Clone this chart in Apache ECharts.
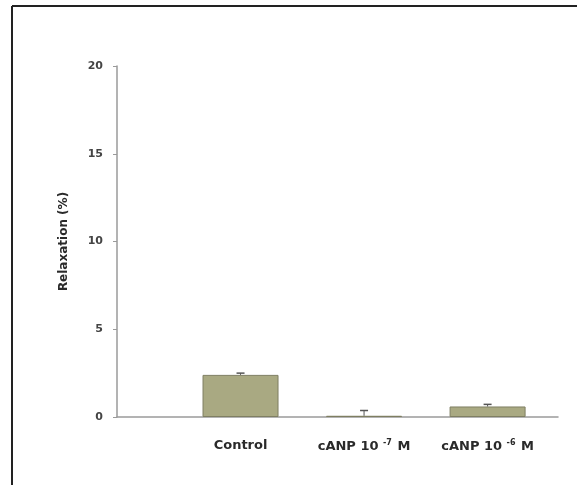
<!DOCTYPE html>
<html>
<head>
<meta charset="utf-8">
<script src="https://cdn.jsdelivr.net/npm/echarts@6/dist/echarts.min.js"></script>
<style>
  html, body { margin: 0; padding: 0; background: #fff; }
  #chart { width: 577px; height: 485px; }
</style>
</head>
<body>
<div id="chart"></div>
<script>
// Group labels (superscript exponent kept separate)
const categories = ['Control', 'cANP 10', 'cANP 10'];
const exponents = ['', '-7', '-6'];
// Mean relaxation (%) per group and its SEM
const means = [2.4, 0.07, 0.6];
const errors = [0.1, 0.3, 0.12];
// Position of each group along the x axis
const positions = [1, 2, 3];
const yTicks = [0, 5, 10, 15, 20];

const FONT = 'DejaVu Sans';
const chart = echarts.init(document.getElementById('chart'));

const barData = positions.map((p, i) => [p, means[i]]);
const errData = positions.map((p, i) => [p, means[i], means[i] + errors[i]]);

chart.setOption({
  animation: false,
  backgroundColor: '#ffffff',
  grid: { left: 117, right: 19, top: 66, bottom: 68 },
  graphic: [
    { type: 'line', shape: { x1: 12, y1: 6, x2: 577, y2: 6 },
      style: { stroke: '#222', lineWidth: 2 } },
    { type: 'line', shape: { x1: 12, y1: 6, x2: 12, y2: 485 },
      style: { stroke: '#222', lineWidth: 2 } }
  ],
  xAxis: {
    type: 'value',
    min: 0,
    max: 3.57,
    interval: 1,
    splitLine: { show: false },
    axisLine: { show: true, lineStyle: { color: '#9a9a9a', width: 1.5 } },
    axisTick: { show: false },
    axisLabel: {
      margin: 22,
      showMaxLabel: false,
      formatter: function (v) {
        const i = positions.indexOf(v);
        if (i < 0) return '';
        if (!exponents[i]) return '{a|' + categories[i] + '}';
        return '{a|' + categories[i] + ' }{s|' + exponents[i] + '}{a| M}';
      },
      rich: {
        a: { fontFamily: FONT, fontWeight: 'bold', fontSize: 13, color: '#2a2a2a' },
        s: { fontFamily: FONT, fontWeight: 'bold', fontSize: 8, color: '#2a2a2a',
             verticalAlign: 'top', padding: [0, 1, 7, 0] }
      }
    }
  },
  yAxis: {
    type: 'value',
    min: 0,
    max: 20,
    interval: 5,
    name: 'Relaxation (%)',
    nameLocation: 'middle',
    nameGap: 47,
    nameTextStyle: { fontFamily: FONT, fontWeight: 'bold', fontSize: 12, color: '#2a2a2a' },
    splitLine: { show: false },
    axisLine: { show: true, lineStyle: { color: '#9a9a9a', width: 1.5 } },
    axisTick: { show: true, inside: false, length: 4, lineStyle: { color: '#9a9a9a' } },
    axisLabel: {
      margin: 14,
      fontFamily: FONT, fontWeight: 'bold', fontSize: 11, color: '#444',
      formatter: function (v) { return yTicks.indexOf(v) >= 0 ? String(v) : ''; }
    }
  },
  series: [
    {
      type: 'bar',
      data: barData,
      barWidth: 76,
      itemStyle: { color: '#a9a982', borderColor: '#7f7f62', borderWidth: 1 }
    },
    {
      type: 'custom',
      data: errData,
      z: 5,
      renderItem: function (params, api) {
        const x = api.value(0);
        const base = api.coord([x, api.value(1)]);
        const top = api.coord([x, api.value(2)]);
        const hw = 4;
        return {
          type: 'group',
          children: [
            { type: 'line', shape: { x1: base[0], y1: base[1], x2: top[0], y2: top[1] },
              style: { stroke: '#555', lineWidth: 1 } },
            { type: 'line', shape: { x1: top[0] - hw, y1: top[1], x2: top[0] + hw, y2: top[1] },
              style: { stroke: '#555', lineWidth: 1.5 } }
          ]
        };
      }
    }
  ]
});
</script>
</body>
</html>
